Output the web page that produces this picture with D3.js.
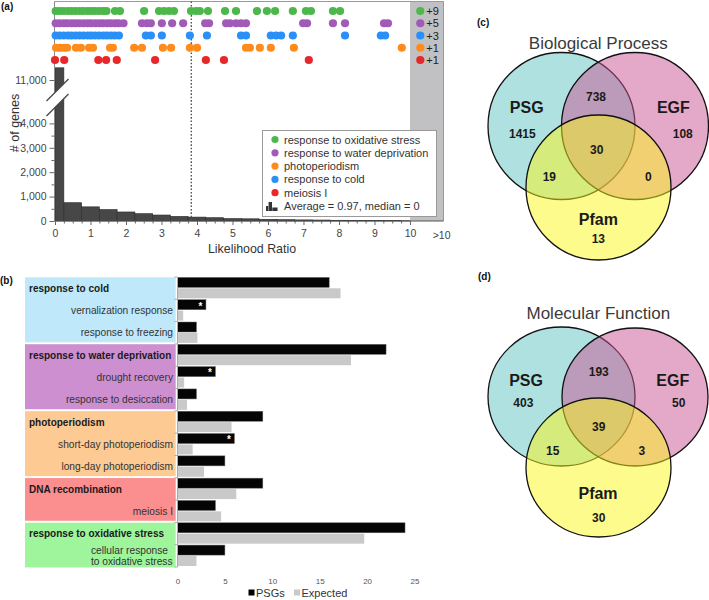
<!DOCTYPE html>
<html><head><meta charset="utf-8">
<script src="https://cdn.jsdelivr.net/npm/d3@7"></script>
<style>
body{margin:0;background:#fff;}
svg{display:block;font-family:"Liberation Sans",Arial,Helvetica,sans-serif;}
</style></head><body>
<svg id="fig" width="709" height="600"></svg>
<script>
// ================= DATA =================
// (a) histogram of likelihood ratios
const histBinEdges = [0,0.25,0.75,1.25,1.75,2.25,2.75,3.25,3.75,4.25,4.75,5.25,5.75,6.25,6.75,7.25,7.75,8.25,8.75,9.25,9.75,10];
const histCounts   = [11500,750,580,470,370,300,245,190,160,135,100,90,70,55,45,40,30,25,20,15,10];
const yTicksLow = [0,1000,2000,3000,4000];
const yTicksHigh = [11000];
const xTickValues = [0,1,2,3,4,5,6,7,8,9,10];
const overflowTickLabel = ">10";
const thresholdLR = 3.84;
// (a) GO-term gene dots (likelihood ratio of each gene), row order top->bottom
const dotCategories = ["response to oxidative stress","response to water deprivation","response to cold","photoperiodism","meiosis I"];
const dotColors = ["#4cb74a","#a25ab8","#2a8ff6","#ff8b1c","#e8272b"];
const oxidativeLR = [0.02,0.13,0.24,0.36,0.47,0.58,0.7,0.8,0.92,1.03,1.13,1.25,1.36,1.45,1.69,1.83,2.51,2.93,3.07,3.21,3.35,3.83,3.97,4.08,4.31,4.79,5.1,5.69,5.97,6.2,6.7,7.07,7.21,7.83,8.03];
const waterLR = [0.02,0.13,0.25,0.35,0.47,0.58,0.69,0.81,0.92,1.02,1.14,1.25,1.35,1.47,1.57,1.69,1.79,1.93,2.45,2.59,2.7,3.01,3.3,3.61,4.23,4.34,4.82,4.93,5.1,5.24,5.38,6.99,7.1,7.83,8.17,9.27,9.38];
const coldLR = [0.02,0.13,0.24,0.36,0.46,0.58,0.69,0.8,0.92,1.02,1.13,1.24,1.36,1.46,1.57,1.68,1.8,2.56,2.7,3.01,3.8,4.28,5.24,5.38,6.08,6.23,6.37,6.7,8.17,9.18,9.3];
const photoLR = [0.03,0.14,0.25,0.34,0.59,0.73,0.96,1.07,1.55,1.63,2.23,2.45,3.04,3.27,3.8,4.0,5.38,5.49,5.77,6.08,6.73,9.77];
const meiosisLR = [0.0,0.26,1.22,1.44,1.74,2.82,4.25,4.76,7.15];
const overflowCounts = [9,5,3,1,1];
const legendOrder = [0,1,3,2,4];
const legendSummary = "Average = 0.97, median = 0";

// (b) enrichment bars
const goTerms = ["response to cold","vernalization response","response to freezing",
  "response to water deprivation","drought recovery","response to desiccation",
  "photoperiodism","short-day photoperiodism","long-day photoperiodism",
  "DNA recombination","meiosis I",
  "response to oxidative stress","cellular response to oxidative stress"];
const isParentTerm = [1,0,0,1,0,0,1,0,0,1,0,1,0];
const psgCounts      = [16,3,2,22,4,2,9,6,5,9,4,24,5];
const expectedCounts = [17.2,0.6,2.1,18.3,0.7,1.0,5.7,1.6,2.8,6.2,4.6,19.7,2.0];
const significant    = [0,1,0,0,1,0,0,1,0,0,0,0,0];
const groupSizes  = [3,3,3,2,2];
const groupColors = ["#bfe9fb","#cd8fd0","#fdca94","#fb8e8e","#9ef59c"];
const barTicks = [0,5,10,15,20,25];
const barSeries = ["PSGs","Expected"];

// (c),(d) Venn counts: PSG only, PSG&EGF, EGF only, all, PSG&Pfam, EGF&Pfam, Pfam only
const vennSets = ["PSG","EGF","Pfam"];
const bpCounts = [1415,738,108,30,19,0,13];
const mfCounts = [403,193,50,39,15,3,30];

// ================= DRAW =================
const svg = d3.select("#fig");
const TXT = "#333";

// ---------- panel tags ----------
[["(a)",1,10],["(b)",0,284],["(c)",477,26],["(d)",478,280]].forEach(t=>{
  svg.append("text").text(t[0]).attr("x",t[1]).attr("y",t[2])
    .attr("font-size",10).attr("font-weight","bold").attr("fill","#111");
});

// ---------- (a) ----------
const gA = svg.append("g");
const plotTop = 1.5, plotBottom = 221, plotLeft = 54.5, plotRight = 443.5;
const xA = d3.scaleLinear().domain([0,10.95]).range([55,443.7]);
const yLow = d3.scaleLinear().domain([0,4000]).range([plotBottom,123.4]);
const yHigh = d3.scaleLinear().domain([11000,12000]).range([80,55.6]);
const yA = v => v > 6000 ? yHigh(v) : yLow(v);

gA.append("rect").attr("x",xA(10)).attr("y",plotTop)
  .attr("width",plotRight-xA(10)).attr("height",plotBottom-plotTop).attr("fill","#c1c1c4");

const bins = histCounts.map((c,i)=>({x0:histBinEdges[i],x1:histBinEdges[i+1],c}));
gA.selectAll("rect.bar").data(bins).join("rect").attr("class","bar")
  .attr("x",d=>xA(d.x0)).attr("width",d=>xA(d.x1)-xA(d.x0))
  .attr("y",d=>yA(d.c)).attr("height",d=>plotBottom-yA(d.c))
  .attr("fill","#474747").attr("stroke","#2a2a2a").attr("stroke-width",0.6);

// frame
gA.append("path").attr("d",`M${plotLeft},${plotTop}H${plotRight}V${plotBottom}`)
  .attr("fill","none").attr("stroke","#9a9a9a").attr("stroke-width",1);
gA.append("line").attr("x1",plotLeft).attr("x2",plotLeft).attr("y1",plotTop).attr("y2",plotBottom)
  .attr("stroke","#8a8a8a");
gA.append("line").attr("x1",plotLeft).attr("x2",plotRight).attr("y1",plotBottom).attr("y2",plotBottom)
  .attr("stroke","#555");

// axis break
const brY = 100.5, brGap = 7.5, brX0 = 46.5, brX1 = 68.5;
const sl = (x,off)=> brY+off-(x-plotLeft);
gA.append("polygon").attr("points",[[brX0,sl(brX0,-brGap)],[brX1,sl(brX1,-brGap)],[brX1,sl(brX1,brGap)],[brX0,sl(brX0,brGap)]].map(p=>p.join(",")).join(" "))
  .attr("fill","#fff");
[-brGap,brGap].forEach(o=>gA.append("line").attr("x1",brX0).attr("y1",sl(brX0,o)).attr("x2",brX1).attr("y2",sl(brX1,o))
  .attr("stroke","#444").attr("stroke-width",1.2));

function styleAxis(g){
  g.select(".domain").remove();
  g.selectAll("line").attr("stroke","#666");
  g.selectAll("text").attr("fill","#444").attr("font-size",10.5).attr("font-family",null);
  g.attr("font-family",null);
}
gA.append("g").attr("transform",`translate(${plotLeft},0)`)
  .call(d3.axisLeft(yLow).tickValues(yTicksLow).tickFormat(d3.format(",")).tickSize(5).tickPadding(3)).call(styleAxis);
gA.append("g").attr("transform",`translate(${plotLeft},0)`)
  .call(d3.axisLeft(yHigh).tickValues(yTicksHigh).tickFormat(d3.format(",")).tickSize(5).tickPadding(3)).call(styleAxis);
gA.append("g").attr("transform",`translate(${plotLeft},0)`)
  .call(d3.axisLeft(yLow).tickValues(yTicksLow.slice(0,-1).map(v=>v+500)).tickFormat("").tickSize(3)).call(styleAxis);
gA.append("g").attr("transform",`translate(0,${plotBottom})`)
  .call(d3.axisBottom(xA).tickValues(xTickValues).tickSize(4).tickPadding(5)).call(styleAxis);
gA.append("g").attr("transform",`translate(0,${plotBottom})`)
  .call(d3.axisBottom(xA).tickValues(d3.range(0,10,0.25).filter(v=>v%1!==0)).tickFormat("").tickSize(2.5)).call(styleAxis);
gA.append("text").text(overflowTickLabel).attr("x",xA(10.89)).attr("y",plotBottom+17.5)
  .attr("text-anchor","middle").attr("font-size",10.5).attr("fill","#444");

gA.append("text").text("Likelihood Ratio").attr("x",252).attr("y",253)
  .attr("text-anchor","middle").attr("font-size",12.4).attr("fill",TXT);
gA.append("text").text("# of genes").attr("transform","translate(19,123) rotate(-90)")
  .attr("text-anchor","middle").attr("font-size",12.5).attr("fill",TXT);

// threshold
gA.append("line").attr("x1",xA(thresholdLR)).attr("x2",xA(thresholdLR)).attr("y1",plotTop).attr("y2",plotBottom)
  .attr("stroke","#555").attr("stroke-width",1.4).attr("stroke-dasharray","1.6,1.8");

// dots
const rowY = d3.scalePoint().domain(dotCategories).range([11,60]);
const dotSeries = [oxidativeLR,waterLR,coldLR,photoLR,meiosisLR];
dotSeries.forEach((arr,i)=>{
  gA.append("g").selectAll("circle").data(arr).join("circle")
    .attr("cx",d=>xA(d)).attr("cy",rowY(dotCategories[i])).attr("r",4.1).attr("fill",dotColors[i]);
  gA.append("circle").attr("cx",xA(10.29)).attr("cy",rowY(dotCategories[i])).attr("r",4.1).attr("fill",dotColors[i]);
  gA.append("text").text("+"+overflowCounts[i]).attr("x",xA(10.46)).attr("y",rowY(dotCategories[i])+4)
    .attr("font-size",11).attr("fill","#222");
});

// legend
const lg = gA.append("g");
lg.append("rect").attr("x",262.5).attr("y",130.5).attr("width",174).attr("height",86)
  .attr("fill","#fff").attr("stroke","#9a9a9a");
const lgY = d3.scalePoint().domain(d3.range(6)).range([139.5,206]);
legendOrder.forEach((ci,k)=>{
  lg.append("circle").attr("cx",275).attr("cy",lgY(k)).attr("r",3.6).attr("fill",dotColors[ci]);
  lg.append("text").text(dotCategories[ci]).attr("x",284).attr("y",lgY(k)+4)
    .attr("font-size",11).attr("fill",TXT);
});
[[266,206,2.3,5],[268.6,202,3.4,9],[272.3,207.5,5.2,3.5]].forEach(r=>
  lg.append("rect").attr("x",r[0]).attr("y",r[1]).attr("width",r[2]).attr("height",r[3]).attr("fill","#333"));
lg.append("text").text(legendSummary).attr("x",284).attr("y",lgY(5)+4).attr("font-size",11).attr("fill",TXT);

// ---------- (b) ----------
const gB = svg.append("g");
const xB = d3.scaleLinear().domain([0,25]).range([177.5,414.5]);
const yB = d3.scaleBand().domain(d3.range(goTerms.length)).range([277,567]);
const bw = yB.bandwidth();
let start = 0;
groupSizes.forEach((n,gi)=>{
  const y0 = yB(start)+0.3, y1 = yB(start+n-1)+bw-1.6 + (gi===groupSizes.length-1?2:0);
  gB.append("rect").attr("x",25).attr("y",y0).attr("width",150.7).attr("height",y1-y0).attr("fill",groupColors[gi]);
  start += n;
});
goTerms.forEach((t,i)=>{
  const cy = yB(i)+bw/2;
  if(isParentTerm[i]){
    gB.append("text").text(t).attr("x",29).attr("y",cy+3.6).attr("font-size",10)
      .attr("font-weight","bold").attr("fill","#1a1a1a");
  } else if(t.length>30){
    const parts = ["cellular response","to oxidative stress"];
    const tx = gB.append("text").attr("x",91).attr("y",cy-2).attr("font-size",10.2).attr("fill",TXT);
    parts.forEach((p,k)=>tx.append("tspan").attr("x",91).attr("dy",k?11.6:0).text(p));
  } else {
    gB.append("text").text(t).attr("x",173).attr("y",cy+3.6).attr("font-size",10.2)
      .attr("text-anchor","end").attr("fill",TXT);
  }
});
// bars
gB.selectAll("rect.psg").data(psgCounts).join("rect").attr("class","psg")
  .attr("x",xB(0)).attr("y",(d,i)=>yB(i)+0.4).attr("width",d=>xB(d)-xB(0)).attr("height",10)
  .attr("fill","#050505").attr("stroke","#666").attr("stroke-width",0.5);
gB.selectAll("rect.exp").data(expectedCounts).join("rect").attr("class","exp")
  .attr("x",xB(0)).attr("y",(d,i)=>yB(i)+11.3).attr("width",d=>xB(d)-xB(0)).attr("height",10)
  .attr("fill","#c9c9c9");
psgCounts.forEach((v,i)=>{ if(significant[i])
  gB.append("text").text("*").attr("x",xB(v)-5.5).attr("y",yB(i)+10.2).attr("text-anchor","middle")
    .attr("font-size",10).attr("font-weight","bold").attr("fill","#fff"); });
// axis
gB.append("line").attr("x1",xB(0)).attr("x2",xB(0)).attr("y1",277).attr("y2",567).attr("stroke","#aaa");
gB.selectAll("line.tk").data(d3.range(goTerms.length+1)).join("line").attr("class","tk")
  .attr("x1",xB(0)-3).attr("x2",xB(0)).attr("y1",i=>i<goTerms.length?yB(i):567).attr("y2",i=>i<goTerms.length?yB(i):567)
  .attr("stroke","#aaa");
gB.append("g").attr("transform","translate(0,572)")
  .call(d3.axisBottom(xB).tickValues(barTicks).tickSize(0).tickPadding(6))
  .call(g=>{g.select(".domain").remove(); g.attr("font-family",null);
    g.selectAll("text").attr("font-size",8).attr("fill","#555");});
// legend
[["#000",248.5,256],["#c9c9c9",294,301.5]].forEach((l,k)=>{
  gB.append("rect").attr("x",l[1]).attr("y",589.5).attr("width",6).attr("height",6).attr("fill",l[0]);
  gB.append("text").text(barSeries[k]).attr("x",l[2]).attr("y",597).attr("font-size",11).attr("fill",TXT);
});

// ---------- (c),(d) Venn ----------
const vennFill = ["#5fc3c3","#c95391","#fbf719"];
const vennLayouts = [
  {title:"Biological Process", titleY:48.5, counts:bpCounts,
   cx:[561.5,635,598.5], cy:[126,126,187.5], rx:[73.5,73.5,72.5], ry:[73.5,73.5,72.5],
   names:[[-71.6,-39.2],[75,-39.2],[0,72.8]],
   nums:[[-76,-12.2],[-2.3,-49.8],[84.4,-12.2],[-1.6,3.5],[-49,30.2],[50,30.2],[0,92.8]]},
  {title:"Molecular Function", titleY:318.5, counts:mfCounts,
   cx:[561.5,635,598.5], cy:[396.5,397,467.5], rx:[73.5,73,72.5], ry:[69.5,69,69.5],
   names:[[-72.3,-39.6],[74.4,-39.6],[-0.3,73]],
   nums:[[-75,-17],[0.4,-48.6],[80.4,-17],[0.4,6.4],[-45.6,30.4],[43.4,30.4],[0.4,98]]}
];
vennLayouts.forEach(L=>{
  const g = svg.append("g");
  const ccx = d3.mean(L.cx), ccy = d3.mean(L.cy);
  g.append("text").text(L.title).attr("x",598.3).attr("y",L.titleY).attr("text-anchor","middle")
    .attr("font-size",17).attr("fill","#3a3a3a");
  g.selectAll("ellipse").data(vennSets).join("ellipse")
    .attr("cx",(d,i)=>L.cx[i]).attr("cy",(d,i)=>L.cy[i]).attr("rx",(d,i)=>L.rx[i]).attr("ry",(d,i)=>L.ry[i])
    .attr("fill",(d,i)=>vennFill[i]).attr("fill-opacity",0.5).attr("stroke","#111").attr("stroke-width",1.3);
  vennSets.forEach((s,i)=>g.append("text").text(s).attr("x",ccx+L.names[i][0]).attr("y",ccy+L.names[i][1])
    .attr("dominant-baseline","central").attr("text-anchor","middle").attr("font-size",16).attr("font-weight","bold").attr("fill","#1a1a1a"));
  L.counts.forEach((c,i)=>g.append("text").text(c).attr("x",ccx+L.nums[i][0]).attr("y",ccy+L.nums[i][1])
    .attr("dominant-baseline","central").attr("text-anchor","middle").attr("font-size",12).attr("font-weight","bold").attr("fill","#1a1a1a"));
});
</script>
</body></html>
